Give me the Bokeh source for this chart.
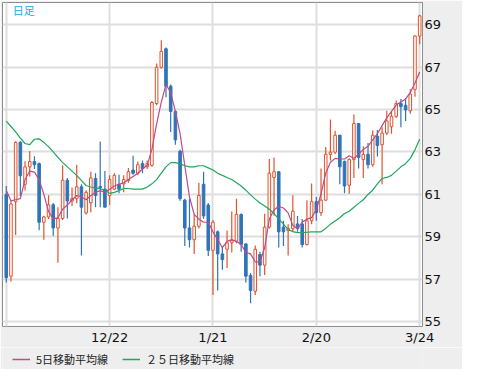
from bokeh.plotting import figure
from bokeh.layouts import column
from bokeh.models import Range1d, FixedTicker, Legend, LegendItem, Label, ColumnDataSource
from bokeh.embed import file_html
from bokeh.resources import INLINE

# ---- data ----
opens = [61.0, 57.15, 60.66, 63.46, 61.48, 62.3, 62.55, 62.45, 59.69, 59.94,
         60.51, 59.42, 59.87, 61.67, 60.69, 60.8, 61.36, 60.13, 60.61, 61.75,
         61.37, 61.25, 60.95, 61.25, 61.48, 61.5, 61.65, 62.15, 62.0, 62.45,
         62.3, 62.37, 65.28, 66.99, 67.86, 66.1, 64.91, 63.04, 60.73, 59.42,
         58.87, 59.5, 61.48, 60.5, 58.37, 59.24, 58.2, 58.42, 58.72, 58.79,
         60.06, 58.67, 57.18, 56.44, 58.17, 57.67, 59.46, 61.8, 62.07, 59.46,
         59.3, 59.39, 59.61, 59.61, 58.64, 59.76, 60.66, 60.14, 60.73, 62.89,
         62.99, 63.79, 62.55, 61.43, 62.64, 64.34, 62.64, 62.89, 62.4, 63.74,
         63.34, 63.89, 64.19, 64.68, 65.28, 65.2, 64.94, 65.95, 68.46]
highs = [61.4, 60.73, 63.5, 63.5, 62.56, 63.04, 62.8, 62.5, 60.0, 60.96,
         60.6, 60.4, 62.37, 61.78, 61.33, 62.4, 61.48, 61.2, 62.07, 62.0,
         63.49, 62.1, 61.9, 62.0, 61.93, 61.9, 62.25, 62.82, 62.55, 62.6,
         62.6, 65.4, 67.17, 68.26, 67.92, 66.18, 64.95, 63.1, 60.8, 60.8,
         60.05, 61.55, 62.07, 60.6, 59.8, 59.3, 58.5, 59.3, 60.2, 60.8,
         60.1, 58.7, 57.3, 58.6, 58.3, 60.09, 62.67, 62.74, 62.1, 59.76,
         59.6, 60.96, 59.98, 59.84, 60.73, 61.51, 60.88, 62.22, 63.24, 64.53,
         64.0, 63.8, 62.6, 62.7, 64.76, 64.34, 63.27, 63.42, 64.01, 64.04,
         64.16, 64.94, 64.91, 65.43, 65.5, 65.53, 65.95, 68.5, 69.46]
lows = [56.85, 56.9, 59.09, 60.91, 61.18, 61.85, 62.2, 59.31, 58.87, 59.84,
        59.06, 57.78, 59.8, 59.87, 60.46, 60.58, 58.12, 60.06, 60.16, 60.4,
        60.4, 60.4, 60.5, 61.2, 61.06, 61.1, 61.55, 61.93, 61.9, 62.0,
        62.2, 62.3, 65.2, 66.92, 65.58, 63.94, 63.34, 60.7, 58.57, 58.5,
        58.2, 59.4, 59.85, 58.1, 56.26, 56.48, 57.45, 57.53, 58.27, 58.7,
        58.3, 56.85, 55.88, 56.26, 57.15, 57.2, 59.4, 60.0, 58.5, 58.57,
        58.12, 59.24, 59.24, 58.5, 58.6, 59.6, 59.76, 59.99, 60.7, 62.6,
        62.9, 61.48, 61.06, 61.03, 61.78, 62.22, 61.78, 62.22, 62.3, 62.79,
        61.48, 63.8, 63.86, 64.6, 64.16, 64.46, 64.8, 65.6, 68.07]
closes = [57.08, 60.55, 63.45, 61.88, 62.3, 62.55, 62.4, 59.69, 59.94, 60.51,
          59.42, 59.87, 61.67, 60.69, 60.8, 61.36, 60.4, 61.1, 61.78, 60.95,
          61.33, 60.4, 61.7, 61.9, 61.25, 61.7, 62.07, 62.0, 62.4, 62.22,
          62.45, 65.33, 66.99, 67.74, 66.1, 64.91, 63.57, 60.8, 59.42, 58.87,
          59.5, 60.95, 59.99, 58.37, 59.69, 58.2, 57.93, 58.72, 58.82, 60.06,
          58.64, 57.15, 56.48, 58.42, 57.67, 59.46, 62.0, 62.07, 59.24, 59.24,
          59.4, 60.21, 59.39, 58.64, 59.76, 60.66, 60.14, 60.73, 62.89, 62.99,
          63.79, 62.3, 61.4, 62.64, 64.34, 62.74, 62.89, 62.4, 63.79, 63.3,
          63.89, 64.46, 64.68, 65.28, 65.13, 64.98, 65.73, 68.46, 69.41]
ma5 = [61.2, 60.7, 60.75, 60.8, 61.7, 62.1, 62.05, 61.7, 61.0, 60.2,
       59.85, 59.9, 60.3, 60.5, 60.75, 60.95, 60.88, 60.75, 60.95, 61.1,
       61.18, 61.1, 61.25, 61.4, 61.48, 61.55, 61.7, 61.85, 62.0, 62.2,
       62.37, 63.12, 64.31, 65.35, 66.18, 65.8, 64.91, 63.86, 62.37, 60.88,
       60.06, 59.84, 59.69, 59.69, 59.24, 58.87, 58.49, 58.79, 58.87, 58.79,
       58.64, 58.27, 58.2, 57.82, 57.82, 58.49, 59.84, 60.28, 60.43, 60.36,
       60.13, 59.54, 59.39, 59.69, 59.84, 59.91, 60.28, 61.03, 62.0, 62.52,
       62.7, 62.67, 62.67, 62.82, 62.7, 62.89, 63.12, 63.27, 63.57, 63.86,
       64.24, 64.61, 64.91, 65.21, 65.35, 65.5, 65.8, 66.25, 66.77]
ma25 = [64.45, 64.2, 63.95, 63.65, 63.4, 63.35, 63.6, 63.62, 63.45, 63.25,
        63.0, 62.75, 62.5, 62.3, 62.1, 61.9, 61.65, 61.42, 61.35, 61.3,
        61.27, 61.2, 61.05, 61.1, 61.18, 61.28, 61.28, 61.25, 61.25, 61.25,
        61.35, 61.5, 61.7, 62.0, 62.3, 62.5, 62.5, 62.45, 62.35, 62.3,
        62.3, 62.35, 62.35, 62.25, 62.15, 62.0, 61.9, 61.8, 61.7, 61.55,
        61.4, 61.2, 60.98, 60.78, 60.6, 60.45, 60.3, 60.1, 59.85, 59.6,
        59.35, 59.25, 59.2, 59.2, 59.22, 59.24, 59.24, 59.24, 59.4, 59.6,
        59.75, 59.9, 60.1, 60.21, 60.4, 60.58, 60.75, 61.0, 61.2, 61.5,
        61.75, 61.8, 61.9, 62.1, 62.3, 62.45, 62.7, 63.1, 63.6]

x_tick_pos = [0, 22, 44, 66, 88]
x_tick_labels = ["", "12/22", "1/21", "2/20", "3/24"]
y_ticks = [55, 57, 59, 61, 63, 65, 67, 69]
legend_labels = ["5日移動平均線", "２５日移動平均線"]
period_label = "日足"

MA5_COLOR = "#c04a88"
MA25_COLOR = "#1fa65e"
UP_LINE = "#e0532c"
DOWN_FILL = "#2f74b9"
PANEL = "#eeeeee"

idx = list(range(len(closes)))
up = [c >= o for o, c in zip(opens, closes)]

src = ColumnDataSource(dict(
    x=idx,
    high=highs,
    low=lows,
    top=[max(o, c) for o, c in zip(opens, closes)],
    bottom=[min(o, c) for o, c in zip(opens, closes)],
    fill=["#ffffff" if u else DOWN_FILL for u in up],
    line=[UP_LINE if u else DOWN_FILL for u in up],
))

p = figure(width=462, height=347, output_backend="svg", toolbar_location=None,
           x_range=Range1d(-0.8, 88.6), y_range=Range1d(54.78, 70.04),
           y_axis_location="right",
           min_border_left=2, min_border_top=2, min_border_right=40, min_border_bottom=18)

p.background_fill_color = "#ffffff"
p.border_fill_color = PANEL
p.outline_line_color = "#8c8c8c"
p.outline_line_width = 1

# grid
p.xgrid.ticker = FixedTicker(ticks=x_tick_pos)
p.ygrid.ticker = FixedTicker(ticks=y_ticks)
p.xgrid.grid_line_color = "#dedede"
p.ygrid.grid_line_color = "#dedede"
p.xgrid.grid_line_width = 2
p.ygrid.grid_line_width = 2

# axes
p.xaxis.ticker = FixedTicker(ticks=x_tick_pos)
p.xaxis.major_label_overrides = {t: l for t, l in zip(x_tick_pos, x_tick_labels)}
p.yaxis.ticker = FixedTicker(ticks=y_ticks)
for ax in (p.xaxis, p.yaxis):
    ax.axis_line_color = None
    ax.major_tick_line_color = None
    ax.minor_tick_line_color = None
    ax.major_tick_out = 0
    ax.major_tick_in = 0
    ax.major_label_text_font = "DejaVu Sans"
    ax.major_label_text_font_size = "13px"
    ax.major_label_text_color = "#111111"
p.xaxis.major_label_standoff = 3
p.yaxis.major_label_standoff = 2

# candles
p.segment(x0="x", y0="low", x1="x", y1="high", source=src, line_color="line", line_width=1.2)
p.vbar(x="x", width=0.55, top="top", bottom="bottom", source=src,
       fill_color="fill", line_color="line", line_width=1)

# moving averages
p.line(idx, ma5, line_color=MA5_COLOR, line_width=1.2)
p.line(idx, ma25, line_color=MA25_COLOR, line_width=1.2)

p.add_layout(Label(x=1.4, y=69.68, text=period_label, text_color="#12aee8",
                   text_font="Noto Sans CJK JP", text_font_size="11px",
                   text_baseline="middle"))

# ---- legend strip below the chart ----
q = figure(width=462, height=22, output_backend="svg", toolbar_location=None,
           x_range=Range1d(0, 1), y_range=Range1d(0, 1),
           min_border=0)
q.background_fill_color = PANEL
q.border_fill_color = PANEL
q.outline_line_color = None
q.axis.visible = False
q.grid.visible = False
# off-screen placeholder renderers, used only for the legend swatches
l5 = q.line(x=[-5, -4], y=[-5, -5], line_color=MA5_COLOR, line_width=1.5)
l25 = q.line(x=[-5, -4], y=[-5, -5], line_color=MA25_COLOR, line_width=1.5)
legend = Legend(items=[LegendItem(label=legend_labels[0], renderers=[l5]),
                       LegendItem(label=legend_labels[1], renderers=[l25])],
                orientation="horizontal", location=(10, 2))
legend.label_text_font = "Noto Sans CJK JP"
legend.label_text_font_size = "11px"
legend.label_text_color = "#222222"
legend.glyph_width = 18
legend.label_standoff = 6
legend.spacing = 14
legend.padding = 0
legend.margin = 0
legend.border_line_color = None
legend.background_fill_alpha = 0
legend.label_height = 16
legend.glyph_height = 16
q.add_layout(legend, "center")

layout = column(p, q, spacing=0)
open("out.html", "w").write(file_html(layout, INLINE))
